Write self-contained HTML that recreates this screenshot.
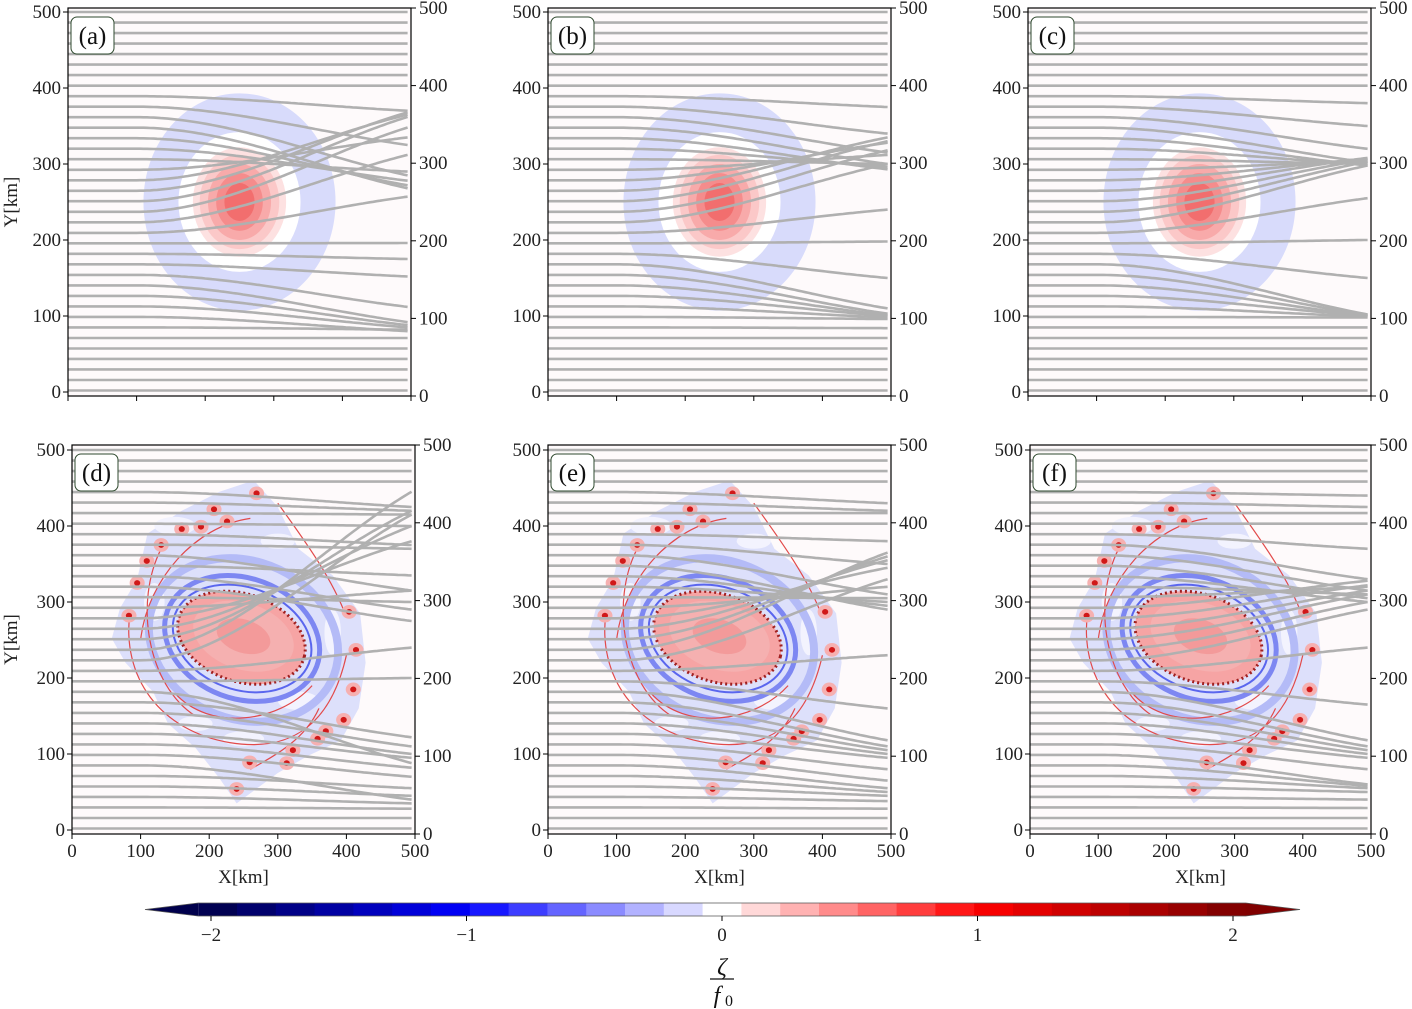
<!DOCTYPE html>
<html><head><meta charset="utf-8"><style>
html,body{margin:0;padding:0;background:#fff;}
svg{display:block;font-family:"Liberation Serif",serif;}
</style></head><body>
<svg id="fig" width="1412" height="1009" viewBox="0 0 1412 1009" xmlns="http://www.w3.org/2000/svg">
<defs>
 <clipPath id="clipTop"><rect x="0" y="0" width="500" height="500"/></clipPath>
</defs>
</svg>
<script>
// ---- data ----
const startY = [2,15.8,29.7,43.5,57.3,71.1,85,98.8,112.6,126.5,140.3,154.1,168,181.8,195.6,209.4,223.3,237.1,251,264.8,278.6,292.4,306.3,320.1,333.9,347.8,361.6,375.4,389.2,403,417,430.8,444.6,458.4,472.3,486,500];
const endA = [2,15.8,29.7,43.5,57.3,71.1,82, 80,85,88,92,112,152,175,196, 257,312,348,362,368,365,335,290,278,272,268,285,325,370, 403,417,430.8,444.6,458.4,472.3,486,500];
const endB = [2,15.8,29.7,43.5,57.3,71.1,84, 96,98,100,101,103,110,150,198, 240,300,318,330,335,328,312,300,296,293,300,315,340,375, 403,417,430.8,444.6,458.4,472.3,486,500];
const endC = [2,15.8,29.7,43.5,57.3,71.1,85, 98,99,100,100,101,102,150,200, 255,298,303,306,308,307,304,300,299,298,302,320,350,380, 403,417,430.8,444.6,458.4,472.3,486,500];
const endD = [2,15.8,28,35,45,55,40, 70,82,95,100,110,122,88,200, 240,415,445,420,400,380,315,300,275,290,335,315,370,375, 400,415,420,425,458.4,472.3,486,500];
const endE = [2,15.8,28,38,45,50,55, 65,80,95,100,105,110,118,160, 230,330,365,360,355,345,320,305,300,295,290,310,350,380, 403,417,420,430,458.4,472.3,486,500];
const endF = [2,15.8,29,40,50,55,58, 60,80,95,100,105,110,118,165, 240,290,300,310,315,322,328,320,310,300,305,315,330,370, 403,417,425,440,458.4,472.3,486,500];
const axisTicks = [0,100,200,300,400,500];
const cbTicks = [-2,-1,0,1,2];
const cbLevelMin = -2.05, cbLevelMax = 2.05, cbLevelCount = 27;
const dotsKm = [[269,443],[207,422],[160,396],[188,399],[130,375],[109,354],[95,325],[83,282],[259,89],[240,54],[313,88],[322,105],[358,120],[370,130],[396,145],[410,185],[414,237],[404,287],[226,406]];

const NS="http://www.w3.org/2000/svg";
const fig=document.getElementById('fig');
function mk(tag,attrs,parent){const e=document.createElementNS(NS,tag);for(const k in attrs)e.setAttribute(k,attrs[k]);(parent||fig).appendChild(e);return e;}

function seismic(t){
  const stops=[[0,[0,0,76]],[0.25,[0,0,255]],[0.5,[255,255,255]],[0.75,[255,0,0]],[1,[128,0,0]]];
  for(let i=0;i<stops.length-1;i++){const a=stops[i],b=stops[i+1];if(t<=b[0]){const f=(t-a[0])/(b[0]-a[0]);return 'rgb('+a[1].map((v,j)=>Math.round(v+(b[1][j]-v)*f)).join(',')+')';}}
  return 'rgb(128,0,0)';
}

const panels=[
 {id:'a',L:68,R:411,T:8,B:396,y0:392,y5:12,ends:endA,top:true},
 {id:'b',L:548,R:891,T:8,B:396,y0:392,y5:12,ends:endB,top:true},
 {id:'c',L:1028,R:1371,T:8,B:396,y0:392,y5:12,ends:endC,top:true},
 {id:'d',L:72,R:415,T:445,B:834,y0:830,y5:450,ends:endD,top:false},
 {id:'e',L:548,R:891,T:445,B:834,y0:830,y5:450,ends:endE,top:false},
 {id:'f',L:1030,R:1371,T:445,B:834,y0:830,y5:450,ends:endF,top:false},
];

function drawTopVortex(g){
  const e=(rx,ry,fill)=>mk('ellipse',{cx:250,cy:250,rx:rx,ry:ry,fill:fill},g);
  e(140,143,'#d8dbfb'); e(89,92,'#ffffff');
  e(68,72,'#fde1e1'); e(58,62,'#fbc8c8'); e(46,50,'#f8aaaa'); e(34,38,'#f58c8c'); e(22,25,'#f26e6e');
}
function drawBottomVortex(g){
  const blob=[[95,330],[110,390],[160,420],[215,445],[265,460],[300,425],[330,370],[380,335],[420,285],[428,220],[418,160],[392,118],[345,98],[300,75],[270,55],[240,35],[215,68],[180,108],[140,140],[118,182],[78,220],[58,252],[70,292]];
  mk('path',{d:'M'+blob.map(p=>p.join(',')).join('L')+'Z',fill:'#dde0fb'},g);
  const patches=[[150,400,30,12],[300,380,25,10],[330,170,30,12],[180,140,25,10],[120,300,15,25],[380,260,12,30],[250,120,30,10]];
  patches.forEach(p=>mk('ellipse',{cx:p[0],cy:p[1],rx:p[2],ry:p[3],fill:'#f3f3fe'},g));
  mk('ellipse',{cx:250,cy:250,rx:140,ry:105,fill:'none',stroke:'#b4bbf7','stroke-width':8,transform:'rotate(-15 250 250)','vector-effect':'non-scaling-stroke'},g);
  mk('ellipse',{cx:248,cy:252,rx:115,ry:80,fill:'none',stroke:'#7d87f2','stroke-width':5,transform:'rotate(-15 248 252)','vector-effect':'non-scaling-stroke'},g);
  mk('ellipse',{cx:248,cy:252,rx:103,ry:68,fill:'none',stroke:'#5a66ee','stroke-width':2,transform:'rotate(-15 248 252)','vector-effect':'non-scaling-stroke'},g);
  mk('ellipse',{cx:247,cy:253,rx:95,ry:58,fill:'#f6a4a4',transform:'rotate(-15 247 253)'},g);
  mk('ellipse',{cx:247,cy:253,rx:95,ry:58,fill:'none',stroke:'#a02020','stroke-width':3,'stroke-dasharray':'2 3',transform:'rotate(-15 247 253)','vector-effect':'non-scaling-stroke'},g);
  mk('ellipse',{cx:250,cy:255,rx:75,ry:44,fill:'#f5b0b0',transform:'rotate(-15 250 255)'},g);
  mk('ellipse',{cx:250,cy:255,rx:40,ry:22,fill:'#f39a9a',transform:'rotate(-15 250 255)'},g);
  const arcs=['M85,290 C70,200 130,130 230,115 S380,150 400,230','M130,370 C90,300 110,190 180,150','M300,430 C340,380 380,330 400,280','M260,80 C300,100 340,120 360,160','M100,250 C110,330 180,400 260,410','M150,180 C200,130 300,140 350,190'];
  arcs.forEach(d=>mk('path',{d:d,fill:'none',stroke:'#e24a4a','stroke-width':1.2,'vector-effect':'non-scaling-stroke'},g));
  dotsKm.forEach(p=>{
    const c1=mk('ellipse',{cx:p[0],cy:p[1],rx:11,ry:9,fill:'#f6b0b0'},g);
    
    
    mk('ellipse',{cx:p[0],cy:p[1],rx:4.5,ry:3.8,fill:'#d01818'},g);
  });
}

panels.forEach(P=>{
  const g=mk('g',{});
  
  
  const sx=(P.R-P.L)/500, sy=(P.y0-P.y5)/500;
  const X=v=>P.L+v*sx, Y=v=>P.y0-v*sy;
  mk('rect',{x:P.L,y:P.T,width:P.R-P.L,height:P.B-P.T,fill:'#fefafb'},g);
  const inner=mk('g',{transform:`translate(${P.L},${P.y0}) scale(${sx},${-sy})`,'clip-path':'url(#clipTop)'},g);
  const vg=mk('g',{},inner);
  
  
  if(P.top)drawTopVortex(vg);else drawBottomVortex(vg);
  const lg=mk('g',{},g);
  
  
  startY.forEach((y0,i)=>{
    const y1=P.ends[i];let d='';
    for(let x=0;x<=495;x+=5){
      const t=Math.max(0,(x-100)/395);
      const f=t*t*(2-t);
      const y=y0+(y1-y0)*f;
      d+=(x?'L':'M')+X(x).toFixed(1)+','+Y(y).toFixed(1);
    }
    const p=mk('path',{d:d,fill:'none',stroke:'#b0b0b0','stroke-width':2.6,'stroke-linejoin':'round'},lg);
    
    
  });
  mk('rect',{x:P.L,y:P.T,width:P.R-P.L,height:P.B-P.T,fill:'none',stroke:'#000','stroke-width':1.2},g);
  axisTicks.forEach(v=>{
    mk('line',{x1:P.L-5,x2:P.L,y1:Y(v),y2:Y(v),stroke:'#000','stroke-width':1},g);
    const t=mk('text',{x:P.L-7,y:Y(v)+6,'text-anchor':'end','font-size':19,fill:'#222'},g);t.textContent=v;
    
    
    const ry=P.B-(P.B-P.T)*v/500;
    mk('line',{x1:P.R,x2:P.R+5,y1:ry,y2:ry,stroke:'#000','stroke-width':1},g);
    const r=mk('text',{x:P.R+8,y:ry+6,'font-size':19,fill:'#222'},g);r.textContent=v;
    
    
    mk('line',{x1:X(v),x2:X(v),y1:P.B,y2:P.B+5,stroke:'#000','stroke-width':1},g);
    if(!P.top){const xt=mk('text',{x:X(v),y:P.B+23,'text-anchor':'middle','font-size':19,fill:'#222'},g);xt.textContent=v;
      
      }
  });
  const lb=mk('g',{},g);
  
  
  mk('rect',{x:P.L+3,y:P.T+9,width:43,height:37,rx:6,fill:'#fff',stroke:'#2f4a2f','stroke-width':1},lb);
  const lt=mk('text',{x:P.L+24.5,y:P.T+36,'text-anchor':'middle','font-size':25,fill:'#111'},lb);lt.textContent='('+P.id+')';
  if(P.id==='a'||P.id==='d'){
    const yl=mk('text',{x:0,y:0,'text-anchor':'middle','font-size':19,fill:'#222',transform:`translate(17,${(P.T+P.B)/2}) rotate(-90)`},g);yl.textContent='Y[km]';
    
    
  }
  if(!P.top){
    const xl=mk('text',{x:(P.L+P.R)/2,y:P.B+49,'text-anchor':'middle','font-size':19,fill:'#222'},g);xl.textContent='X[km]';
    
    
  }
});

const cb=mk('g',{});


const cbZero=722, cbUnit=255.5, cbT=903, cbB=916;
const CX=v=>cbZero+v*cbUnit;
const step=(cbLevelMax-cbLevelMin)/cbLevelCount;
for(let k=0;k<cbLevelCount;k++){
  const a=cbLevelMin+k*step, b=a+step, m=(a+b)/2;
  const r=mk('rect',{x:CX(a),y:cbT,width:CX(b)-CX(a)+0.5,height:cbB-cbT,fill:seismic((m+2)/4)},cb);
  
  
}
mk('polygon',{points:`${CX(cbLevelMin)},${cbT} 145,${(cbT+cbB)/2} ${CX(cbLevelMin)},${cbB}`,fill:seismic(0)},cb);
mk('polygon',{points:`${CX(cbLevelMax)},${cbT} 1300,${(cbT+cbB)/2} ${CX(cbLevelMax)},${cbB}`,fill:seismic(1)},cb);
mk('polygon',{points:`${CX(cbLevelMin)},${cbT} 145,${(cbT+cbB)/2} ${CX(cbLevelMin)},${cbB} ${CX(cbLevelMax)},${cbB} 1300,${(cbT+cbB)/2} ${CX(cbLevelMax)},${cbT}`,fill:'none',stroke:'#555','stroke-width':0.8},cb);
cbTicks.forEach(v=>{
  mk('line',{x1:CX(v),x2:CX(v),y1:cbB,y2:cbB+5,stroke:'#000'},cb);
  const t=mk('text',{x:CX(v),y:cbB+25,'text-anchor':'middle','font-size':19,fill:'#222'},cb);t.textContent=(v<0?'\u2212':'')+Math.abs(v);
  
  
});
const cl=mk('g',{},cb);


const z=mk('text',{x:722,y:975,'text-anchor':'middle','font-size':24,'font-style':'italic',fill:'#111'},cl);z.textContent='ζ';
mk('line',{x1:710,x2:734,y1:979,y2:979,stroke:'#111','stroke-width':1.3},cl);
const f0=mk('text',{x:717,y:1003,'text-anchor':'middle','font-size':24,'font-style':'italic',fill:'#111'},cl);f0.textContent='f';
const f0s=mk('text',{x:729,y:1006,'text-anchor':'middle','font-size':16,fill:'#111'},cl);f0s.textContent='0';
</script>
</body></html>
